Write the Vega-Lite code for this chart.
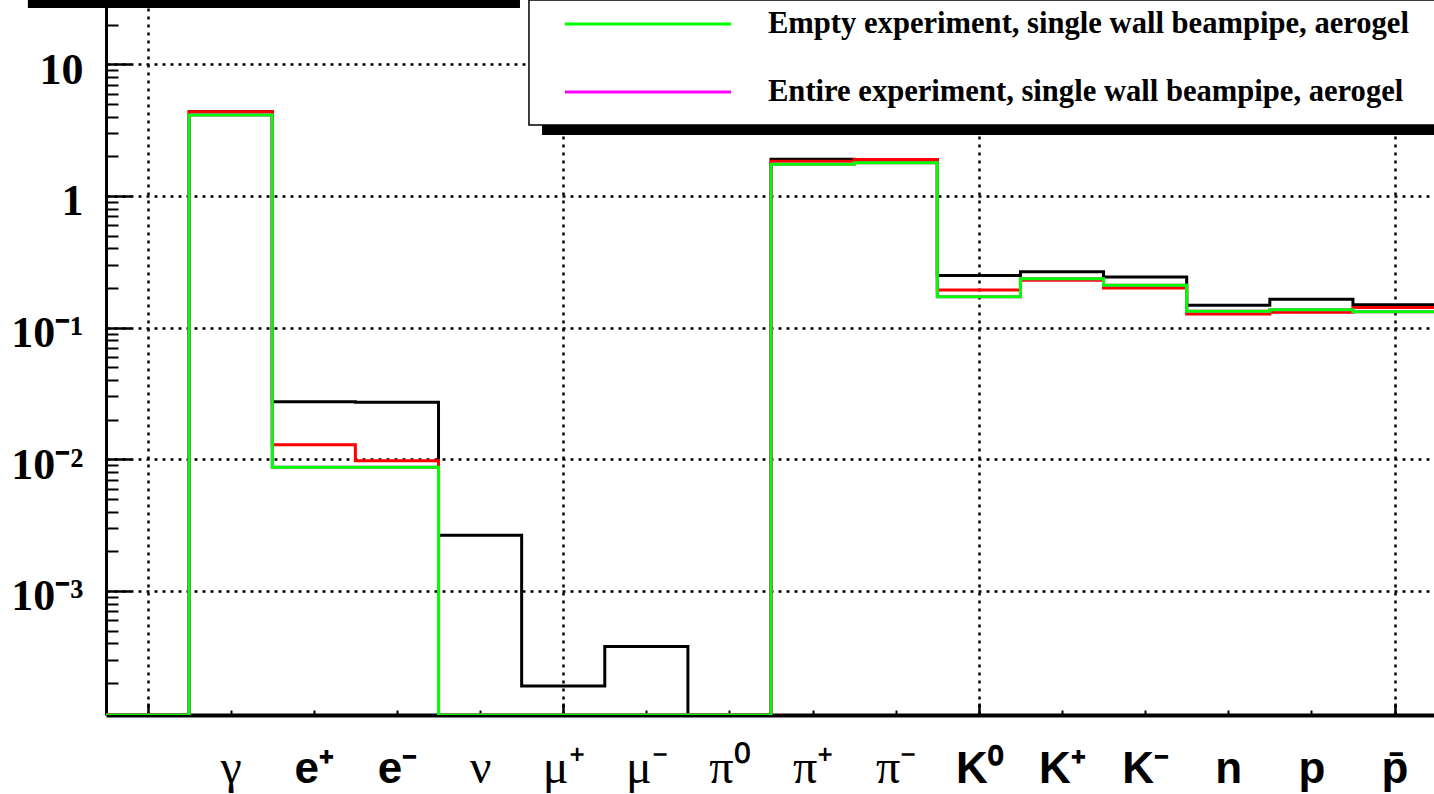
{
  "$schema": "https://vega.github.io/schema/vega-lite/v6.json",
  "width": 1328,
  "height": 715,
  "autosize": "none",
  "padding": {"left": 106, "top": 0, "right": 0, "bottom": 79},
  "background": "white",
  "config": {"view": {"stroke": null}},
  "datasets": {
    "black": [
      {"bin": 0, "particle": "", "value": 0},
      {"bin": 1, "particle": "γ", "value": 4.37},
      {"bin": 2, "particle": "e+", "value": 0.0274},
      {"bin": 3, "particle": "e-", "value": 0.0271},
      {"bin": 4, "particle": "ν", "value": 0.00265},
      {"bin": 5, "particle": "μ+", "value": 0.00019},
      {"bin": 6, "particle": "μ-", "value": 0.000378},
      {"bin": 7, "particle": "π0", "value": 0},
      {"bin": 8, "particle": "π+", "value": 1.9},
      {"bin": 9, "particle": "π-", "value": 1.88},
      {"bin": 10, "particle": "K0", "value": 0.249},
      {"bin": 11, "particle": "K+", "value": 0.266},
      {"bin": 12, "particle": "K-", "value": 0.242},
      {"bin": 13, "particle": "n", "value": 0.148},
      {"bin": 14, "particle": "p", "value": 0.164},
      {"bin": 15, "particle": "pbar", "value": 0.149},
      {"bin": 16, "particle": "upper edge", "value": 0.149}
    ],
    "red": [
      {"bin": 0, "particle": "", "value": 0},
      {"bin": 1, "particle": "γ", "value": 4.37},
      {"bin": 2, "particle": "e+", "value": 0.0129},
      {"bin": 3, "particle": "e-", "value": 0.00977},
      {"bin": 4, "particle": "ν", "value": 0},
      {"bin": 5, "particle": "μ+", "value": 0},
      {"bin": 6, "particle": "μ-", "value": 0},
      {"bin": 7, "particle": "π0", "value": 0},
      {"bin": 8, "particle": "π+", "value": 1.835},
      {"bin": 9, "particle": "π-", "value": 1.89},
      {"bin": 10, "particle": "K0", "value": 0.193},
      {"bin": 11, "particle": "K+", "value": 0.229},
      {"bin": 12, "particle": "K-", "value": 0.2},
      {"bin": 13, "particle": "n", "value": 0.127},
      {"bin": 14, "particle": "p", "value": 0.131},
      {"bin": 15, "particle": "pbar", "value": 0.142},
      {"bin": 16, "particle": "upper edge", "value": 0.142}
    ],
    "magenta": [
      {"bin": 0, "particle": "", "value": 0},
      {"bin": 1, "particle": "γ", "value": 4.12},
      {"bin": 2, "particle": "e+", "value": 0.00871},
      {"bin": 3, "particle": "e-", "value": 0.00871},
      {"bin": 4, "particle": "ν", "value": 0},
      {"bin": 5, "particle": "μ+", "value": 0},
      {"bin": 6, "particle": "μ-", "value": 0},
      {"bin": 7, "particle": "π0", "value": 0},
      {"bin": 8, "particle": "π+", "value": 1.741},
      {"bin": 9, "particle": "π-", "value": 1.79},
      {"bin": 10, "particle": "K0", "value": 0.1714},
      {"bin": 11, "particle": "K+", "value": 0.2347},
      {"bin": 12, "particle": "K-", "value": 0.2095},
      {"bin": 13, "particle": "n", "value": 0.1334},
      {"bin": 14, "particle": "p", "value": 0.1365},
      {"bin": 15, "particle": "pbar", "value": 0.1318},
      {"bin": 16, "particle": "upper edge", "value": 0.1318}
    ],
    "green": [
      {"bin": 0, "particle": "", "value": 0},
      {"bin": 1, "particle": "γ", "value": 4.12},
      {"bin": 2, "particle": "e+", "value": 0.00871},
      {"bin": 3, "particle": "e-", "value": 0.00871},
      {"bin": 4, "particle": "ν", "value": 0},
      {"bin": 5, "particle": "μ+", "value": 0},
      {"bin": 6, "particle": "μ-", "value": 0},
      {"bin": 7, "particle": "π0", "value": 0},
      {"bin": 8, "particle": "π+", "value": 1.741},
      {"bin": 9, "particle": "π-", "value": 1.79},
      {"bin": 10, "particle": "K0", "value": 0.1714},
      {"bin": 11, "particle": "K+", "value": 0.2347},
      {"bin": 12, "particle": "K-", "value": 0.2095},
      {"bin": 13, "particle": "n", "value": 0.1334},
      {"bin": 14, "particle": "p", "value": 0.1365},
      {"bin": 15, "particle": "pbar", "value": 0.1318},
      {"bin": 16, "particle": "upper edge", "value": 0.1318}
    ]
  },
  "resolve": {"axis": {"x": "independent", "y": "independent"}},
  "layer": [
    {
      "data": {"name": "black"},
      "mark": {"type": "line", "interpolate": "step-after", "color": "black", "strokeWidth": 3, "clip": true},
      "encoding": {
        "x": {
          "field": "bin", "type": "quantitative",
          "scale": {"domain": [0, 15.975], "nice": false, "zero": false},
          "axis": {
            "orient": "bottom", "values": [0.5, 5.5, 10.5, 15.5], "labels": false,
            "grid": true, "gridColor": "black", "gridDash": [3, 5], "gridWidth": 2.5, "gridOpacity": 1,
            "tickSize": -12, "tickWidth": 2.5, "tickColor": "black",
            "domain": true, "domainColor": "black", "domainWidth": 4, "title": null
          }
        },
        "y": {
          "field": "value", "type": "quantitative",
          "scale": {"type": "log", "domain": [0.0001143, 30.8], "clamp": true, "nice": false},
          "axis": {
            "orient": "left", "values": [0.001, 0.01, 0.1, 1, 10],
            "labelExpr": "datum.value > 5 ? '10' : datum.value > 0.5 ? '1' : datum.value > 0.05 ? '10⁻¹' : datum.value > 0.005 ? '10⁻²' : '10⁻³'",
            "grid": true, "gridColor": "black", "gridDash": [3, 5], "gridWidth": 2.5, "gridOpacity": 1,
            "tickSize": -25, "tickWidth": 2.5, "tickColor": "black",
            "domain": true, "domainColor": "black", "domainWidth": 3,
            "labelFont": "Liberation Serif", "labelFontWeight": "bold", "labelFontSize": 44, "labelColor": "black",
            "labelPadding": 48, "labelOffset": 6, "labelBaseline": "middle", "labelAlign": "right",
            "labelOverlap": false, "labelFlush": false, "title": null
          }
        }
      }
    },
    {
      "data": {"name": "red"},
      "mark": {"type": "line", "interpolate": "step-after", "color": "#ff0000", "strokeWidth": 3, "clip": true},
      "encoding": {
        "x": {"field": "bin", "type": "quantitative", "axis": null},
        "y": {"field": "value", "type": "quantitative", "axis": null}
      }
    },
    {
      "data": {"name": "magenta"},
      "mark": {"type": "line", "interpolate": "step-after", "color": "#ff00ff", "strokeWidth": 3, "clip": true},
      "encoding": {
        "x": {"field": "bin", "type": "quantitative", "axis": null},
        "y": {"field": "value", "type": "quantitative", "axis": null}
      }
    },
    {
      "data": {"name": "green"},
      "mark": {"type": "line", "interpolate": "step-after", "color": "#00ff00", "strokeWidth": 3, "clip": true},
      "encoding": {
        "x": {"field": "bin", "type": "quantitative", "axis": null},
        "y": {"field": "value", "type": "quantitative", "axis": null}
      }
    },
    {
      "data": {"values": [{}]},
      "mark": {"type": "rect", "color": "black"},
      "encoding": {
        "x": {
          "datum": 5.245,
          "axis": {
            "orient": "bottom", "values": [1.5, 2.5, 3.5, 4.5, 5.5, 6.5, 7.5, 8.5, 9.5, 10.5, 11.5, 12.5, 13.5, 14.5, 15.5],
            "labelExpr": "['', 'γ', 'e⁺', 'e⁻', 'ν', 'μ⁺', 'μ⁻', 'π⁰', 'π⁺', 'π⁻', 'K⁰', 'K⁺', 'K⁻', 'n', 'p', 'p̄'][floor(datum.value)]",
            "grid": false, "domain": false,
            "tickSize": -5, "tickWidth": 2, "tickColor": "black",
            "labelColor": "black",
            "labelFontSize": {"condition": {"test": "datum.value < 2 || (datum.value > 4 && datum.value < 10)", "value": 48}, "value": 44},
            "labelFont": {"condition": {"test": "datum.value < 2 || (datum.value > 4 && datum.value < 10)", "value": "Liberation Serif"}, "value": "Liberation Sans"},
            "labelFontWeight": {"condition": {"test": "datum.value < 2 || (datum.value > 4 && datum.value < 10)", "value": "normal"}, "value": "bold"},
            "labelBaseline": "alphabetic", "labelPadding": 72, "labelAlign": "center",
            "labelOverlap": false, "labelFlush": false, "title": null
          }
        },
        "x2": {"datum": 17},
        "y": {
          "datum": 2.905,
          "axis": {
            "orient": "left",
            "values": [0.0002, 0.0003, 0.0004, 0.0005, 0.0006, 0.0007, 0.0008, 0.0009,
                       0.002, 0.003, 0.004, 0.005, 0.006, 0.007, 0.008, 0.009,
                       0.02, 0.03, 0.04, 0.05, 0.06, 0.07, 0.08, 0.09,
                       0.2, 0.3, 0.4, 0.5, 0.6, 0.7, 0.8, 0.9,
                       2, 3, 4, 5, 6, 7, 8, 9, 20, 30],
            "labels": false, "grid": false, "domain": false,
            "tickSize": -12, "tickWidth": 2, "tickColor": "black", "title": null
          }
        },
        "y2": {"datum": 100}
      }
    },
    {
      "data": {"values": [{}]},
      "mark": {"type": "rect", "fill": "white", "stroke": "black", "strokeWidth": 1.5},
      "encoding": {
        "x": {"datum": 5.088, "axis": null},
        "x2": {"datum": 17},
        "y": {"datum": 3.46, "axis": null},
        "y2": {"datum": 100}
      }
    },
    {
      "data": {"values": [{}]},
      "mark": {"type": "rule", "color": "#00ff00", "strokeWidth": 3},
      "encoding": {
        "x": {"datum": 5.521, "axis": null},
        "x2": {"datum": 7.518},
        "y": {"datum": 20.2, "axis": null}
      }
    },
    {
      "data": {"values": [{}]},
      "mark": {"type": "rule", "color": "#ff00ff", "strokeWidth": 3},
      "encoding": {
        "x": {"datum": 5.521, "axis": null},
        "x2": {"datum": 7.518},
        "y": {"datum": 6.16, "axis": null}
      }
    },
    {
      "data": {"values": [{}]},
      "mark": {"type": "text", "align": "left", "baseline": "middle", "font": "Liberation Serif", "fontWeight": "bold", "fontSize": 30.6, "color": "black", "text": "Empty experiment, single wall beampipe, aerogel"},
      "encoding": {
        "x": {"datum": 7.963, "axis": null},
        "y": {"datum": 20.2, "axis": null}
      }
    },
    {
      "data": {"values": [{}]},
      "mark": {"type": "text", "align": "left", "baseline": "middle", "font": "Liberation Serif", "fontWeight": "bold", "fontSize": 30.6, "color": "black", "text": "Entire experiment, single wall beampipe, aerogel"},
      "encoding": {
        "x": {"datum": 7.963, "axis": null},
        "y": {"datum": 6.16, "axis": null}
      }
    },
    {
      "data": {"values": [{}]},
      "mark": {"type": "rect", "color": "black"},
      "encoding": {
        "x": {"datum": -0.94, "axis": null},
        "x2": {"datum": 4.98},
        "y": {"datum": 26.8, "axis": null},
        "y2": {"datum": 100}
      }
    }
  ]
}
